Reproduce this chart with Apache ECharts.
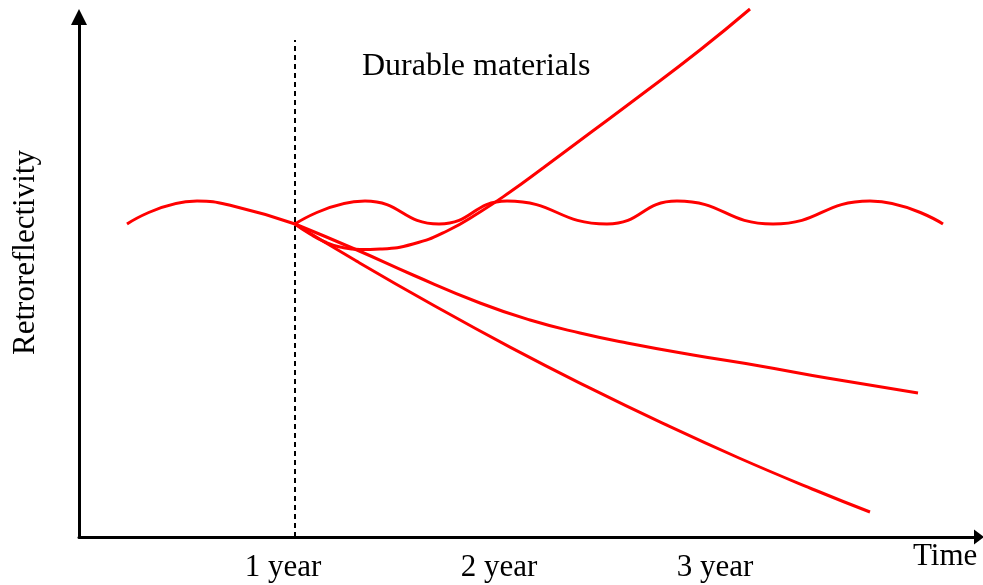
<!DOCTYPE html>
<html>
<head>
<meta charset="utf-8">
<script src="https://cdn.jsdelivr.net/npm/echarts@6/dist/echarts.min.js"></script>
<style>
  html, body { margin: 0; padding: 0; background: #fff; }
  #chart { width: 983px; height: 585px; }
</style>
</head>
<body>
<div id="chart"></div>
<script>
// x in months since installation, y in relative retroreflectivity units
const xTickValues = [12, 24, 36];
const xTickLabels = ['1 year', '2 year', '3 year'];
const xName = 'Time';
const yName = 'Retroreflectivity';
const titleText = 'Durable materials';

const dividerMonth = 12;
const dividerTop = 99.4;

const wavyBefore = [
  [2.667, 62.6], [6.556, 67.2], [8.556, 66.2], [12, 62.6]
];
const wavyAfter = [
  [12, 62.6], [15.889, 67.2], [20.0, 62.6], [23.778, 67.2], [29.333, 62.6],
  [33.222, 67.2], [38.556, 62.6], [43.944, 67.2], [48.0, 62.6]
];
const rising = [
  [12, 62.6], [12.833, 60.6], [13.667, 59.0], [14.5, 58.0], [15.611, 57.5],
  [16.722, 57.6], [18.556, 58.6], [20.444, 61.2], [22.278, 65.0], [23.944, 69.0],
  [25.778, 73.8], [28.389, 80.8], [31.0, 87.8], [34.5, 97.4], [37.278, 105.6]
];
const gradual = [
  [12, 62.6], [15.444, 57.4], [18.556, 52.4], [22.278, 46.8], [25.056, 43.4],
  [27.833, 40.8], [30.444, 38.8], [34.111, 36.4], [37.833, 34.2], [41.556, 31.8],
  [46.611, 28.8]
];
const steep = [
  [12, 62.6], [15.389, 55.24], [19.667, 46.4], [23.944, 37.98], [28.167, 30.18],
  [32.444, 22.72], [36.667, 15.8], [40.944, 9.3], [43.944, 5.0]
];

const FONT = 'Liberation Serif';
const RED = '#ff0000';

const chart = echarts.init(document.getElementById('chart'), null, { renderer: 'canvas' });

function curve(name, data, extra) {
  return Object.assign({
    type: 'line',
    name: name,
    data: data,
    smooth: 0.5,
    showSymbol: false,
    symbol: 'none',
    clip: false,
    silent: true,
    lineStyle: { color: RED, width: 3 },
    z: 3
  }, extra || {});
}

chart.setOption({
  animation: false,
  backgroundColor: '#fff',
  title: {
    text: titleText,
    left: 362,
    top: 51,
    padding: 0,
    textStyle: { fontFamily: FONT, fontSize: 32, fontWeight: 'normal', color: '#000' }
  },
  grid: { left: 79, right: 4, top: 17, bottom: 48, containLabel: false },
  xAxis: {
    type: 'value',
    min: 0,
    max: 50,
    name: xName,
    nameLocation: 'end',
    nameGap: -66,
    nameTextStyle: { fontFamily: FONT, fontSize: 31, color: '#000', verticalAlign: 'top', padding: [4, 0, 0, 0] },
    axisLine: {
      show: true,
      symbol: ['none', 'triangle'],
      symbolSize: [15, 10],
      lineStyle: { color: '#000', width: 3 }
    },
    axisTick: { show: false },
    splitLine: { show: false },
    axisLabel: {
      show: true,
      customValues: xTickValues,
      formatter: function (v) {
        const i = xTickValues.indexOf(v);
        return i >= 0 ? xTickLabels[i] : '';
      },
      fontFamily: FONT,
      fontSize: 31,
      color: '#000',
      margin: 15,
      padding: [0, 24, 0, 0]
    }
  },
  yAxis: {
    type: 'value',
    min: 0,
    max: 104,
    name: yName,
    nameLocation: 'middle',
    nameGap: 38,
    nameRotate: 90,
    nameTextStyle: { fontFamily: FONT, fontSize: 31, color: '#000', padding: [0, 0, 0, 49] },
    axisLine: {
      show: true,
      symbol: ['none', 'triangle'],
      symbolSize: [16, 16],
      lineStyle: { color: '#000', width: 3 }
    },
    axisTick: { show: false },
    axisLabel: { show: false },
    splitLine: { show: false }
  },
  series: [
    curve('Before', wavyBefore, {
      markLine: {
        silent: true,
        symbol: ['none', 'none'],
        label: { show: false },
        lineStyle: { color: '#000', width: 2, type: [5, 4] },
        data: [[{ coord: [dividerMonth, 0] }, { coord: [dividerMonth, dividerTop] }]],
        z: 1
      }
    }),
    curve('Stable', wavyAfter),
    curve('Rising', rising),
    curve('Gradual decline', gradual),
    curve('Steep decline', steep)
  ]
});
</script>
</body>
</html>
